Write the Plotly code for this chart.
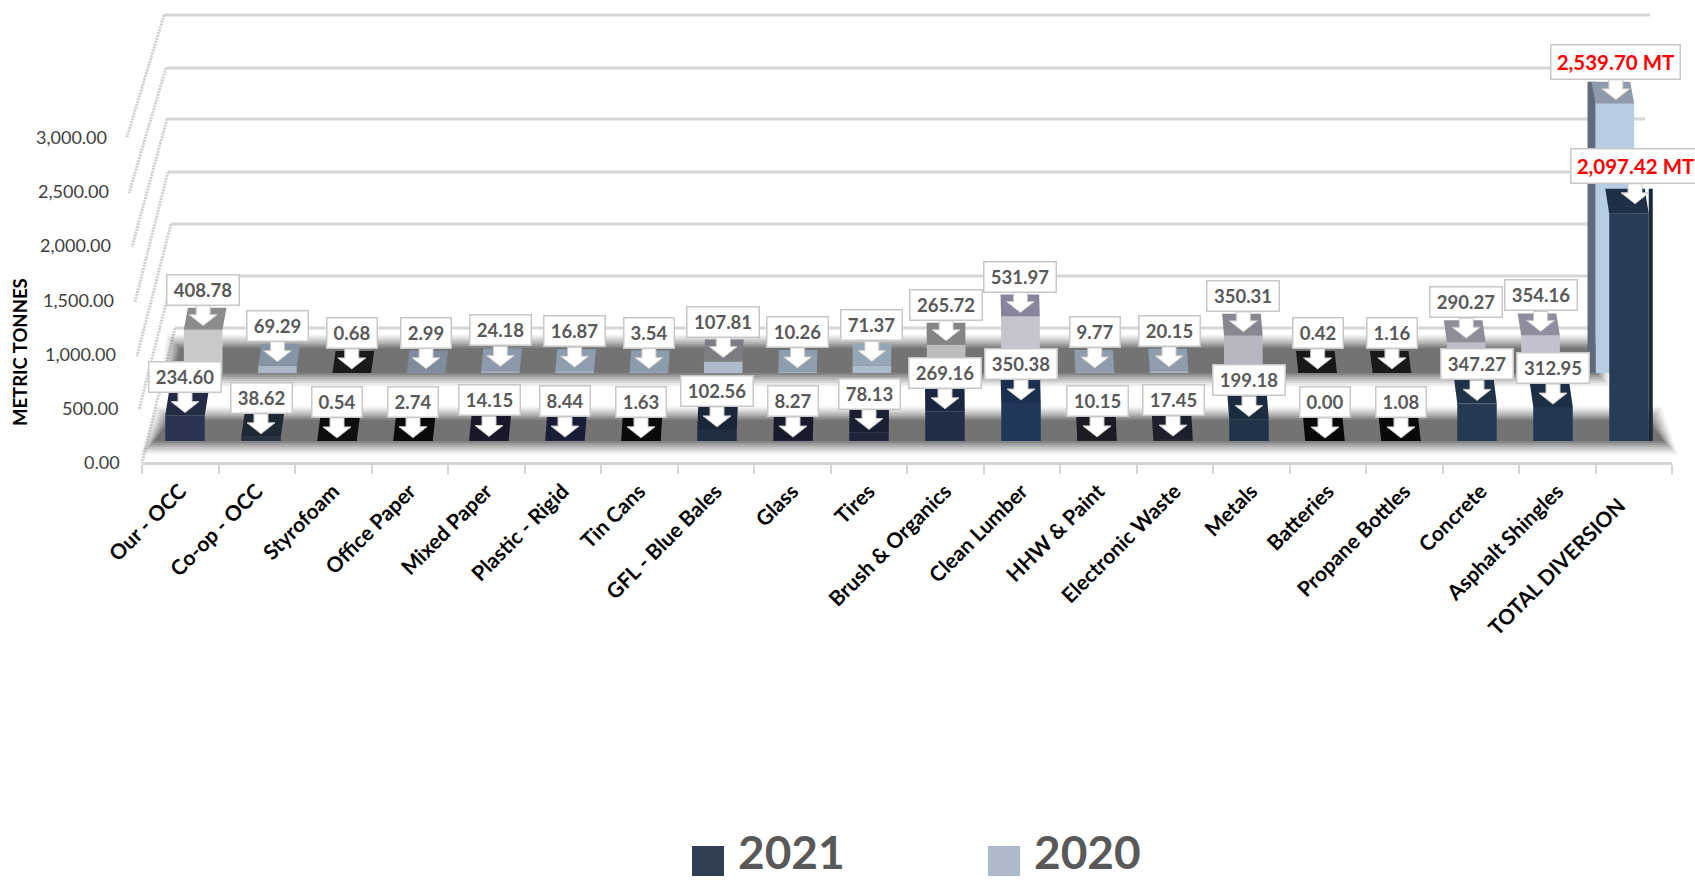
import plotly.graph_objects as go

W, H = 1695, 880

categories = ["Our - OCC", "Co-op - OCC", "Styrofoam", "Office Paper", "Mixed Paper",
              "Plastic - Rigid", "Tin Cans", "GFL - Blue Bales", "Glass", "Tires",
              "Brush & Organics", "Clean Lumber", "HHW & Paint", "Electronic Waste",
              "Metals", "Batteries", "Propane Bottles", "Concrete", "Asphalt Shingles",
              "TOTAL DIVERSION"]
values_2021 = [234.60, 38.62, 0.54, 2.74, 14.15, 8.44, 1.63, 102.56, 8.27, 78.13,
               269.16, 350.38, 10.15, 17.45, 199.18, 0.00, 1.08, 347.27, 312.95, 2097.42]
values_2020 = [408.78, 69.29, 0.68, 2.99, 24.18, 16.87, 3.54, 107.81, 10.26, 71.37,
               265.72, 531.97, 9.77, 20.15, 350.31, 0.42, 1.16, 290.27, 354.16, 2539.70]
y_ticks = [0, 500, 1000, 1500, 2000, 2500, 3000]

face_2021 = ["#2b3453", "#26323f", "#131313", "#0e0e0e", "#1d1d2d", "#1d2442", "#0f0f0f",
             "#202e43", "#1e2035", "#1f243a", "#212e48", "#203759", "#212129", "#212631",
             "#20334b", "#0b0b0b", "#0d0d0d", "#253a52", "#213752", "#283c58"]
top_2021 = ["#232b45", "#1f2933", "#0e0e0e", "#0a0a0a", "#18182a", "#181e38", "#0a0a0a",
            "#1a2738", "#191b2d", "#1a1f32", "#1b2740", "#1b2f4e", "#1b1b23", "#1b202a",
            "#1b2b40", "#080808", "#090909", "#1f3247", "#1c2f47", "#1f2f47"]
face_2020 = ["#c9c9cb", "#a9b6c5", "#202020", "#93a0ae", "#9dabbb", "#a3b1c3", "#9dabb8",
             "#adbbcb", "#a2b2bf", "#acbccd", "#bcbcbf", "#c6c4ce", "#9dabb8", "#a2b0bd",
             "#b8b6c1", "#1e1e1e", "#202020", "#bfbec8", "#c4c2ce", "#b9cde2"]
top_2020 = ["#8c8c8e", "#8494a4", "#1a1a1a", "#7f8c9b", "#8c9aab", "#8f9db0", "#8d9cab",
            "#7c7e84", "#8f9eae", "#96a6b6", "#848486", "#87859b", "#8e9cab", "#8f9dac",
            "#878792", "#181818", "#1a1a1a", "#8e8d98", "#908e9e", "#8f9aaa"]

GRID = "#d6d6d6"
TEXT = "#595959"
LABEL_BORDER = "#c8c8c8"
COL_2021, COL_2020 = "#323e53", "#adb9ca"

# Pixel layout of the two bar rows: left edge, right edge, baseline, pixels per tonne, top depth
ROW_FRONT = dict(x0=147, x1=1667, base=441, scale=325 / 3000, depth=25, label_gap=2,
                 total_lift=7, total_shift=6, side=(4, "#1b2839", 1))
ROW_BACK = dict(x0=166, x1=1652, base=373, scale=318 / 3000, depth=22, label_gap=-2,
                total_lift=0, total_shift=1, side=(8, "#5f6b7b", -1))
AXIS_X0, AXIS_X1, AXIS_Y0, AXIS_Y3000 = 142, 1672, 462, 137

n = len(categories)
fx = lambda px: px / W
fy = lambda px: 1 - px / H


def poly(points):
    return "M " + " L ".join(f"{fx(x):.5f} {fy(y):.5f}" for x, y in points) + " Z"


shapes = []


def soft_band(left_back, right_back, left_front, right_front, top, bottom):
    # Blurred floor band: concentric translucent polygons
    for grow, alpha in [(10, .06), (8, .09), (6, .12), (4, .16), (2, .2), (0, .28), (-2, .4), (-4, .55)]:
        shapes.append(dict(type="path", xref="paper", yref="paper", layer="below",
                           path=poly([(left_back - grow, top - grow), (right_back + grow, top - grow),
                                      (right_front + grow, bottom + grow), (left_front - grow, bottom + grow)]),
                           fillcolor=f"rgba(100,100,100,{alpha})", line_width=0))


# Back wall gridlines and the slanted side wall
back_y = [328, 276, 224, 172, 119, 68, 15]
back_x = [175, 173, 171, 168, 167, 166, 164]
front_y = [463, 410, 356, 302, 247, 193, 137]
front_x = [142, 139, 137, 135, 132, 129, 127]
right_end = [1592, 1592, 1592, 1592, 1645, 1600, 1650]
for bx, by, fxx, fyy, re_ in zip(back_x, back_y, front_x, front_y, right_end):
    shapes.append(dict(type="line", xref="paper", yref="paper", layer="below",
                       x0=fx(bx), y0=fy(by), x1=fx(re_), y1=fy(by),
                       line=dict(color=GRID, width=3)))
    shapes.append(dict(type="line", xref="paper", yref="paper", layer="below",
                       x0=fx(bx), y0=fy(by), x1=fx(fxx), y1=fy(fyy),
                       line=dict(color="#cfcfcf", width=3, dash="2px,1px")))

soft_band(176, 1600, 170, 1600, 344, 377)
soft_band(166, 1652, 150, 1668, 416, 445)

# Legend swatches
shapes.append(dict(type="rect", xref="paper", yref="paper", x0=fx(692), x1=fx(724), y0=fy(846), y1=fy(876),
                   fillcolor=COL_2021, line_width=0))
shapes.append(dict(type="rect", xref="paper", yref="paper", x0=fx(988), x1=fx(1020), y0=fy(846), y1=fy(876),
                   fillcolor=COL_2020, line_width=0))

fig = go.Figure()

# Category axis: carries the tick marks and the slanted names
fig.add_trace(go.Scatter(x=categories, y=[0] * n, mode="none", xaxis="x", yaxis="y",
                         showlegend=False, hoverinfo="skip"))


def add_row(values, faces, tops, row, xa, ya, name):
    step = (row["x1"] - row["x0"]) / n
    half = 0.26
    xs = list(range(n))
    depth_u = row["depth"] / row["scale"]
    # Side face of the tall total column
    side_w, side_col, side_dir = row["side"]
    last = n - 1
    edge = last + side_dir * half
    fig.add_trace(go.Scatter(
        x=[edge, edge + side_dir * side_w / step, edge + side_dir * side_w / step, edge, edge],
        y=[0, 0, values[last] + depth_u, values[last] + depth_u, 0],
        mode="lines", fill="toself", fillcolor=side_col, line=dict(width=0, color=side_col),
        xaxis=xa, yaxis=ya, showlegend=False, hoverinfo="skip"))
    fig.add_trace(go.Bar(x=xs, y=values, width=half * 2, marker=dict(color=faces, line_width=0),
                         xaxis=xa, yaxis=ya, name=name, showlegend=False))
    for i, v in enumerate(values):
        lean = (9.5 - i) / 9.5 * 4 / step
        t = v + depth_u
        fig.add_trace(go.Scatter(
            x=[i - half, i + half, i + half + lean, i - half + lean, i - half],
            y=[v, v, t, t, v], mode="lines", fill="toself", fillcolor=tops[i],
            line=dict(width=0, color=tops[i]), xaxis=xa, yaxis=ya, showlegend=False, hoverinfo="skip"))
    # Callout arrows under each value box
    ax, ay = [], []
    u = 1 / row["scale"]
    for i, v in enumerate(values):
        is_total = i == last
        bottom = v + depth_u - row["label_gap"] * u + (row["total_lift"] * u if is_total else 0)
        cx = i + (row["total_shift"] / step if is_total else 0)
        stem, head = 7 / step, 14 / step
        ax += [cx - stem, cx + stem, cx + stem, cx + head, cx, cx - head, cx - stem, cx - stem, None]
        ay += [bottom, bottom, bottom - 9 * u, bottom - 9 * u, bottom - 20 * u, bottom - 9 * u,
               bottom - 9 * u, bottom, None]
    fig.add_trace(go.Scatter(x=ax, y=ay, mode="lines", fill="toself", fillcolor="white",
                             line=dict(color=LABEL_BORDER, width=1), xaxis=xa, yaxis=ya,
                             showlegend=False, hoverinfo="skip"))


add_row(values_2020, face_2020, top_2020, ROW_BACK, "x2", "y2", "2020")
add_row(values_2021, face_2021, top_2021, ROW_FRONT, "x3", "y3", "2021")

annotations = []


def box_labels(values, row, xa, ya):
    depth_u = row["depth"] / row["scale"]
    for i, v in enumerate(values):
        total = i == n - 1
        text = f"{v:,.2f}" + (" MT" if total else "")
        width = {4: 49, 5: 60, 6: 71}.get(len(text), 128)
        annotations.append(dict(
            x=i, y=v + depth_u, xref=xa, yref=ya, text=f"<b>{text}</b>", showarrow=False,
            yanchor="bottom", yshift=-row["label_gap"] + (row["total_lift"] if total else 0),
            xshift=row["total_shift"] if total else 0,
            width=width, height=33 if total else 29,
            bgcolor="white", bordercolor=LABEL_BORDER, borderwidth=1.5, borderpad=0,
            font=dict(family="Lato", size=20.5 if total else 18.5, color="#ff0000" if total else TEXT)))


box_labels(values_2020, ROW_BACK, "x2", "y2")
box_labels(values_2021, ROW_FRONT, "x3", "y3")

# Value scale, stepping outwards with the side wall
for v in y_ticks:
    annotations.append(dict(x=fx(122 - 13 * v / 3000), xref="paper", y=v, yref="y", xanchor="right",
                            yanchor="middle", text=f"{v:,.2f}", showarrow=False,
                            font=dict(family="Lato", size=18, color="#404040")))

annotations.append(dict(x=fx(20), y=fy(352), xref="paper", yref="paper", text="<b>METRIC TONNES</b>",
                        textangle=-90, showarrow=False, xanchor="center", yanchor="middle",
                        font=dict(family="Lato", size=18.5, color="#000000")))
for label, left in (("2021", 736), ("2020", 1032)):
    annotations.append(dict(x=fx(left), y=fy(851), xref="paper", yref="paper", xanchor="left", yanchor="middle",
                            text=f"<b>{label}</b>", showarrow=False, height=50, width=118, align="left",
                            font=dict(family="Lato", size=46, color=TEXT)))

hidden = dict(visible=False, fixedrange=True, automargin=False)


def dom_x(row):
    return [fx(row["x0"]), fx(row["x1"])]


def dom_y(row):
    return [fy(row["base"]), fy(row["base"] - 3000 * row["scale"])]


# The total's name sits a little lower along its slant than the others
tick_names = categories[:-1] + [categories[-1] + "\u00a0" * 4]

fig.update_layout(
    width=W, height=H, margin=dict(l=0, r=0, t=0, b=0, autoexpand=False), autosize=False,
    paper_bgcolor="white", plot_bgcolor="rgba(0,0,0,0)", showlegend=False, barmode="overlay",
    shapes=shapes, annotations=annotations,
    xaxis=dict(domain=[fx(AXIS_X0), fx(AXIS_X1)], type="category", categoryorder="array",
               categoryarray=categories, tickmode="array", tickvals=categories, ticktext=tick_names,
               range=[-0.5, n - 0.5], anchor="y", automargin=False,
               tickson="boundaries", ticks="outside", ticklabelstandoff=6,
               ticklen=9, tickcolor=GRID, tickwidth=2, showline=True, linecolor=GRID, linewidth=2.5,
               showgrid=False, tickangle=-45,
               tickfont=dict(family="Lato", size=21, color="#000000", weight="bold")),
    yaxis=dict(domain=[fy(AXIS_Y0), fy(AXIS_Y3000)], range=[0, 3000], anchor="x", **hidden),
    xaxis2=dict(domain=dom_x(ROW_BACK), range=[-0.5, n - 0.5], anchor="y2", **hidden),
    yaxis2=dict(domain=dom_y(ROW_BACK), range=[0, 3000], anchor="x2", **hidden),
    xaxis3=dict(domain=dom_x(ROW_FRONT), range=[-0.5, n - 0.5], anchor="y3", **hidden),
    yaxis3=dict(domain=dom_y(ROW_FRONT), range=[0, 3000], anchor="x3", **hidden),
)

fig.write_html("out.html", config=dict(displayModeBar=False))
